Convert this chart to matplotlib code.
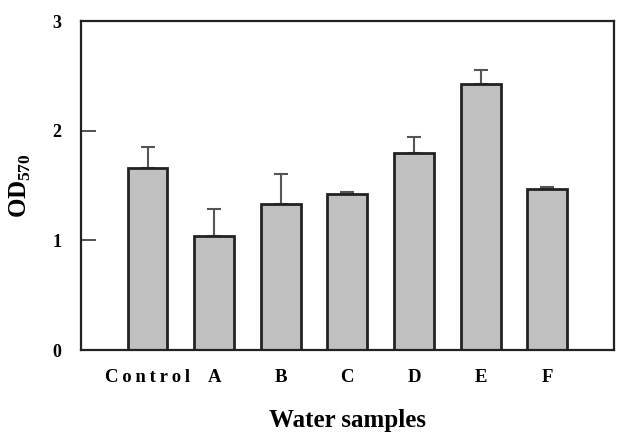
import matplotlib
matplotlib.use('Agg')
import matplotlib.pyplot as plt
import numpy as np

# Data
samples = ['Control', 'A', 'B', 'C', 'D', 'E', 'F']
od570 = [1.66, 1.04, 1.33, 1.42, 1.80, 2.43, 1.47]
od570_err = [0.19, 0.25, 0.28, 0.02, 0.14, 0.12, 0.02]
y_ticks = [0, 1, 2, 3]

plt.rcParams['font.family'] = ['Liberation Serif', 'DejaVu Serif']
plt.rcParams['font.weight'] = 'bold'
plt.rcParams['mathtext.fontset'] = 'custom'
plt.rcParams['mathtext.rm'] = 'Liberation Serif:bold'
plt.rcParams['mathtext.bf'] = 'Liberation Serif:bold'

fig = plt.figure(figsize=(6.27, 4.40), dpi=100)
ax = fig.add_axes([0.129, 0.2045, 0.850, 0.7475])

x = np.arange(len(samples))
ax.bar(x, od570, width=0.6, color='#c0c0c0', edgecolor='#222222', linewidth=2, zorder=2)
ax.errorbar(x, od570, yerr=[np.zeros(len(od570_err)), od570_err], fmt='none',
            ecolor='#555555', elinewidth=1.5, capsize=5, capthick=1.5, zorder=1)

ax.set_xlim(-1, 7)
ax.set_ylim(0, 3)
ax.set_yticks(y_ticks)
ax.set_yticklabels([str(t) for t in y_ticks], fontsize=13, fontweight='bold')
ax.tick_params(axis='y', direction='in', length=11, width=1.2, color='#333333', pad=14)

# spaced-out category labels like the original
ax.set_xticks(x)
labels = ['\u2009'.join(s) for s in samples]
ax.set_xticklabels(labels, fontsize=13.5, fontweight='bold')
ax.tick_params(axis='x', length=0, pad=14)

for s in ax.spines.values():
    s.set_linewidth(1.6)
    s.set_color('#222222')

ax.set_xlabel('Water samples', fontsize=18, fontweight='bold', labelpad=16)
ax.set_ylabel(r'$\mathrm{OD}_{\mathrm{570}}$', fontsize=18, labelpad=14)

fig.savefig('out.png', dpi=100)
